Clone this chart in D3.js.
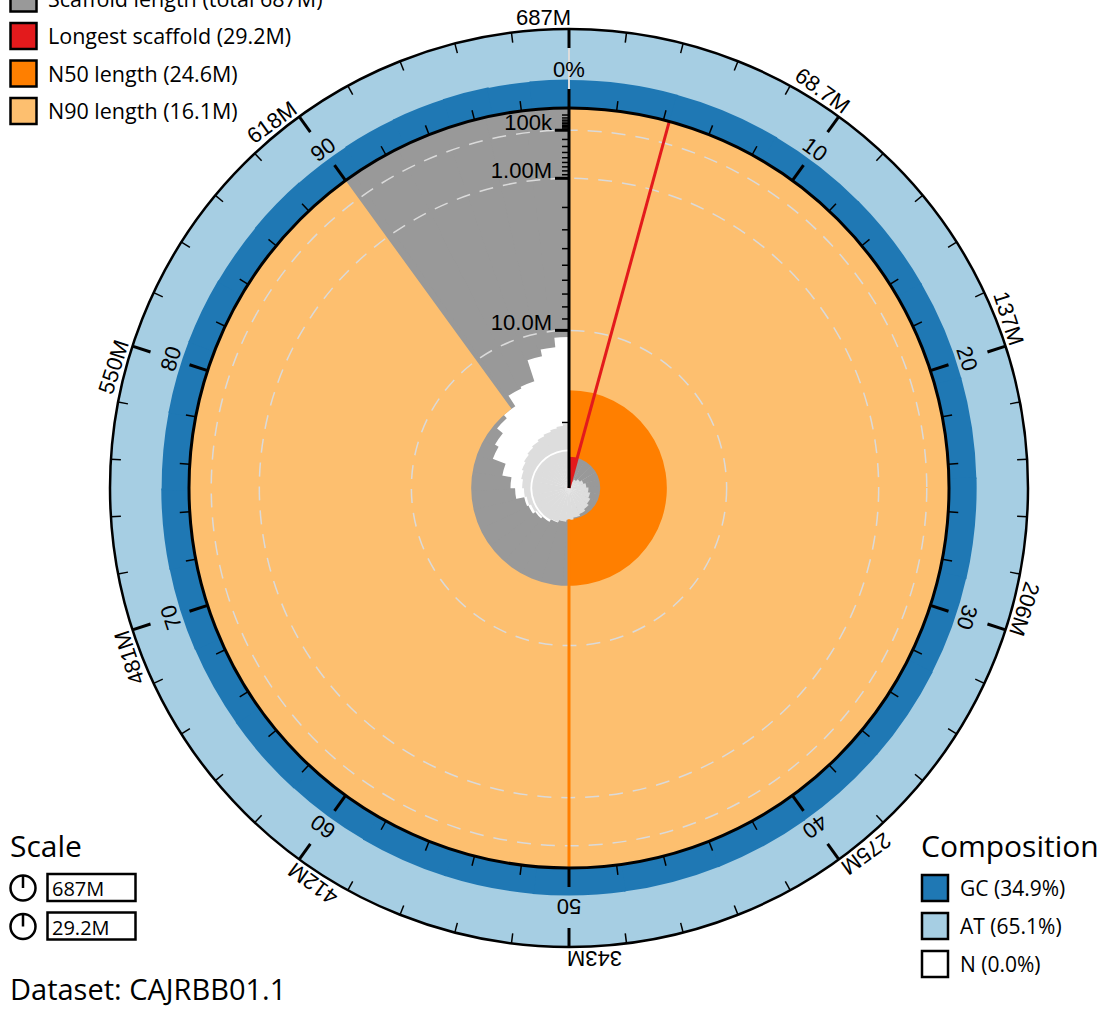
<!DOCTYPE html>
<html>
<head>
<meta charset="utf-8">
<script src="https://cdn.jsdelivr.net/npm/d3@7"></script>
<style>
  body { margin: 0; background: #fff; }
  svg { display: block; }
</style>
</head>
<body>
<svg id="chart" width="1107" height="1009"></svg>
<script>
// Scaffold lengths (Mb), sorted longest first
const scaffoldLengths = [
  29.2, 29.0, 28.1, 27.8, 27.5, 27.3, 27.1, 26.9, 26.6, 26.3, 26.2, 26.2,
  24.6, 24.3, 23.9, 23.5, 23.2, 22.8, 22.6, 21.5, 20.9, 19.7,
  18.0, 17.5, 16.6, 16.1, 14.7, 14.5, 12.2, 11.5, 10.6
];
// GC percentage of each scaffold, same order
const gcPercent = [
  35.3, 35.0, 34.8, 34.9, 34.7, 34.8, 35.0, 34.6, 34.9, 34.7, 34.8, 34.6,
  34.9, 34.7, 34.8, 34.5, 34.9, 34.6, 34.8, 35.1, 34.7, 34.9,
  35.0, 34.6, 35.2, 34.8, 35.4, 35.9, 36.3, 35.6, 36.1
];
// Whole-assembly base composition (%)
const compositionNames = ["GC", "AT", "N"];
const compositionValues = [34.9, 65.1, 0.0];
const compositionColors = ["#1f78b4", "#a6cee3", "#ffffff"];
// Length axis tick labels and count guide rings
const lengthAxisMajor = [1e5, 1e6, 1e7];
const countGuides = [16];
const datasetName = "CAJRBB01.1";

const cx = 569, cy = 488;
const R = 380, ringOuter = 459;
const fmt = d3.format(".3s");
const chartFont = "'Liberation Sans', Arial, sans-serif";
const legendFont = "'Open Sans', 'Noto Sans', sans-serif";
const overlap = 0.02; // angular overlap so adjacent sectors leave no seams

const svg = d3.select("#chart");
const g = svg.append("g").attr("transform", `translate(${cx},${cy})`);

const lengths = scaffoldLengths.map(d => d * 1e6);
const total = d3.sum(lengths);
const maxLen = d3.max(lengths);
let running = 0;
const segs = lengths.map((len, i) => {
  const s = { len, start: running, end: running + len, count: i + 1, gc: gcPercent[i] };
  running += len;
  return s;
});
const nStat = p => segs.find(s => s.end >= total * p).len;
const n50 = nStat(0.5), n90 = nStat(0.9);

const angle = d3.scaleLinear().domain([0, total]).range([0, 2 * Math.PI]);
const radius = d3.scaleSqrt().domain([maxLen, 0]).range([0, R]);
const countRadius = d3.scalePow().exponent(0.8).domain([0, segs.length]).range([0, 64]);
const compRadius = d3.scaleLinear().domain([0, 100]).range([R, ringOuter]);
const arc = d3.arc();
const polar = (r, a) => [r * Math.sin(a), -r * Math.cos(a)];
const deg = a => a * 180 / Math.PI;
// widen a sector backwards (into its predecessor) or forwards (into its successor)
const segStartBack = (s, i) => Math.max(angle(s.start) - (i > 0 ? overlap : 0), 0);
const segEndFwd = (s, i) => Math.min(angle(s.end) + (i < segs.length - 1 ? overlap : 0), 2 * Math.PI);

// scaffold length distribution
g.append("g").selectAll("path").data(segs).join("path")
  .attr("d", (s, i) => arc({ innerRadius: radius(s.len), outerRadius: R,
                             startAngle: segStartBack(s, i), endAngle: angle(s.end) }))
  .attr("fill", "#999999");

// longest scaffold
g.append("path")
  .attr("d", arc({ innerRadius: 0, outerRadius: R, startAngle: 0, endAngle: angle(segs[0].end) }))
  .attr("fill", "#e31a1c");

// N50 and N90 areas
g.append("path")
  .attr("d", arc({ innerRadius: radius(n50), outerRadius: R, startAngle: 0, endAngle: angle(total * 0.5) }))
  .attr("fill", "#ff7f00");
g.append("path")
  .attr("d", arc({ innerRadius: radius(n90), outerRadius: R, startAngle: 0, endAngle: angle(total * 0.9) }))
  .attr("fill", "#fdbf6f");

// order-of-magnitude length circles
g.append("g").selectAll("circle").data(lengthAxisMajor).join("circle")
  .attr("r", d => radius(d))
  .attr("fill", "none").attr("stroke", "#dadada").attr("stroke-width", 1.5)
  .attr("stroke-dasharray", "14,10");

// cumulative scaffold count spiral
g.append("g").selectAll("path").data(segs).join("path")
  .attr("d", (s, i) => arc({ innerRadius: 0, outerRadius: countRadius(s.count),
                             startAngle: angle(s.start), endAngle: segEndFwd(s, i) }))
  .attr("fill", "#dddddd");

countGuides.forEach(c => {
  const first = segs.find(s => s.count >= c);
  if (!first) return;
  const r = countRadius(c);
  g.append("path")
    .attr("d", arc({ innerRadius: r - 0.9, outerRadius: r + 0.9,
                     startAngle: angle(first.start), endAngle: 2 * Math.PI }))
    .attr("fill", "#ffffff");
});

// N50 and longest scaffold markers
const radial = (a, r0, r1, color, w) => {
  const p0 = polar(r0, a), p1 = polar(r1, a);
  g.append("line").attr("x1", p0[0]).attr("y1", p0[1]).attr("x2", p1[0]).attr("y2", p1[1])
    .attr("stroke", color).attr("stroke-width", w);
};
radial(angle(total * 0.5), radius(n50), R, "#ff7f00", 3);
radial(angle(segs[0].end), 0, R, "#e31a1c", 3);

// base composition ring: AT background, GC on top
const comp = g.append("g");
comp.append("path")
  .attr("d", arc({ innerRadius: R, outerRadius: compRadius(100), startAngle: 0, endAngle: 2 * Math.PI }))
  .attr("fill", compositionColors[1]);
comp.selectAll("path.gc").data(segs).join("path").attr("class", "gc")
  .attr("d", (s, i) => arc({ innerRadius: R, outerRadius: compRadius(s.gc),
                             startAngle: angle(s.start), endAngle: Math.min(angle(s.end) + 0.004, 2 * Math.PI) }))
  .attr("fill", compositionColors[0]);
radial(0, R, ringOuter, "#dcdcdc", 2);

g.append("circle").attr("r", R).attr("fill", "none").attr("stroke", "#000").attr("stroke-width", 3);
g.append("circle").attr("r", ringOuter).attr("fill", "none").attr("stroke", "#000").attr("stroke-width", 2.5);

// ring ticks every 2%, labelled every 10%
d3.range(50).forEach(k => {
  const a = angle(total * k / 50);
  const major = k % 5 === 0;
  radial(a, R, R + (major ? 19 : 10), "#000", major ? 3 : 1.5);
  radial(a, ringOuter, ringOuter - (major ? 19 : 10), "#000", major ? 3 : 1.5);
});
d3.range(10).forEach(k => {
  const a = deg(angle(total * k / 10));
  const lg = g.append("g").attr("transform", `rotate(${a})`);
  lg.append("text").attr("x", 0).attr("y", -(R + 31))
    .attr("text-anchor", "middle").attr("font-family", chartFont).attr("font-size", 22)
    .text(k === 0 ? "0%" : String(k * 10));
  lg.append("text").attr("x", 2).attr("y", -(ringOuter + 4))
    .attr("text-anchor", "end").attr("font-family", chartFont).attr("font-size", 22)
    .text(fmt(k === 0 ? total : total * k / 10));
});

// radial length axis
const axisG = g.append("g");
axisG.append("line").attr("x1", 0).attr("y1", 0).attr("x2", 0).attr("y2", -R)
  .attr("stroke", "#000").attr("stroke-width", 3);
const minorTicks = [];
[1e4, 1e5, 1e6, 1e7].forEach(base => d3.range(1, 10).forEach(m => {
  const v = base * m;
  if (v <= maxLen && !lengthAxisMajor.includes(v)) minorTicks.push(v);
}));
axisG.selectAll("line.minor").data(minorTicks).join("line").attr("class", "minor")
  .attr("x1", -7).attr("x2", 0)
  .attr("y1", d => -radius(d)).attr("y2", d => -radius(d))
  .attr("stroke", "#000").attr("stroke-width", 1.5);
axisG.selectAll("line.major").data(lengthAxisMajor).join("line").attr("class", "major")
  .attr("x1", -14).attr("x2", 0)
  .attr("y1", d => -radius(d)).attr("y2", d => -radius(d))
  .attr("stroke", "#000").attr("stroke-width", 3);
axisG.selectAll("text").data(lengthAxisMajor).join("text")
  .attr("x", -17).attr("y", d => -radius(d))
  .attr("text-anchor", "end").attr("font-family", chartFont).attr("font-size", 22)
  .text(d => fmt(d));

// summary legend
const summary = [
  { color: "#999999", label: `Scaffold length (total ${fmt(total)})` },
  { color: "#e31a1c", label: `Longest scaffold (${fmt(maxLen)})` },
  { color: "#ff7f00", label: `N50 length (${fmt(n50)})` },
  { color: "#fdbf6f", label: `N90 length (${fmt(n90)})` }
];
const legTop = svg.append("g");
summary.forEach((d, i) => {
  const yc = -1.5 + i * 37.5;
  legTop.append("rect").attr("x", 10.5).attr("y", yc - 13).attr("width", 26).attr("height", 26)
    .attr("fill", d.color).attr("stroke", "#000").attr("stroke-width", 2.5);
  legTop.append("text").attr("x", 48).attr("y", yc + 8)
    .attr("font-family", legendFont).attr("font-size", 21.5).text(d.label);
});

// scale legend
const legScale = svg.append("g");
legScale.append("text").attr("x", 10).attr("y", 857)
  .attr("font-family", legendFont).attr("font-size", 30).text("Scale");
[total, maxLen].forEach((v, i) => {
  const yc = 888 + i * 38.5;
  legScale.append("circle").attr("cx", 23).attr("cy", yc).attr("r", 12.5)
    .attr("fill", "#fff").attr("stroke", "#000").attr("stroke-width", 2.5);
  legScale.append("line").attr("x1", 23).attr("y1", yc).attr("x2", 23).attr("y2", yc - 12.5)
    .attr("stroke", "#000").attr("stroke-width", 2.5);
  legScale.append("rect").attr("x", 47.5).attr("y", yc - 14).attr("width", 88).attr("height", 27)
    .attr("fill", "#fff").attr("stroke", "#000").attr("stroke-width", 2.5);
  legScale.append("text").attr("x", 52).attr("y", yc + 8)
    .attr("font-family", legendFont).attr("font-size", 20).text(fmt(v));
});

// composition legend
const legComp = svg.append("g");
legComp.append("text").attr("x", 921).attr("y", 857)
  .attr("font-family", legendFont).attr("font-size", 30).text("Composition");
compositionNames.forEach((name, i) => {
  const yc = 888 + i * 38;
  legComp.append("rect").attr("x", 922).attr("y", yc - 13).attr("width", 26).attr("height", 26)
    .attr("fill", compositionColors[i]).attr("stroke", "#000").attr("stroke-width", 2.5);
  legComp.append("text").attr("x", 960).attr("y", yc + 8)
    .attr("font-family", legendFont).attr("font-size", 21).text(`${name} (${compositionValues[i].toFixed(1)}%)`);
});

svg.append("text").attr("x", 10).attr("y", 1000)
  .attr("font-family", legendFont).attr("font-size", 29).text(`Dataset: ${datasetName}`);
</script>
</body>
</html>
